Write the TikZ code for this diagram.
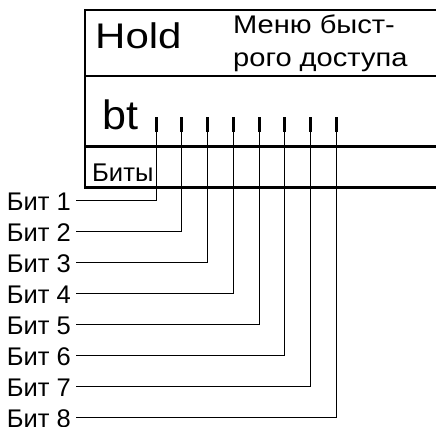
\documentclass[tikz,border=0pt]{standalone}
\usepackage{fontspec}
\setmainfont{Liberation Sans}
\newfontfamily\widefont[FakeStretch=1.18]{Liberation Sans}
\newfontfamily\menufont[FakeStretch=1.14]{Liberation Sans}
\newfontfamily\btfont[FakeStretch=1.05]{Liberation Sans}
\begin{document}
\begin{tikzpicture}[x=1pt,y=1pt,
  frame/.style={line width=2.6pt},
  wire/.style={line width=1pt},
  tickmark/.style={fill=black, inner sep=0pt, minimum width=3pt, minimum height=15pt},
  bitlabel/.style={anchor=east, inner xsep=5pt, inner ysep=0pt, text height=20pt, text depth=0pt, font=\fontsize{25.5}{25.5}\selectfont},
  txt/.style={anchor=base west, inner sep=0pt}]
\useasboundingbox (0,0) rectangle (436,-426);
\draw[frame] (436,-10) -- (85,-10) -- (85,-187.5) -- (436,-187.5);
\draw[frame] (85,-76) -- (436,-76);
\draw[frame] (85,-146.5) -- (436,-146.5);
\node[txt, font=\widefont\fontsize{35.6}{35.6}\selectfont] (hold) at (95,-48.3) {Hold};
\node[txt, font=\menufont\fontsize{25.5}{25.5}\selectfont] (menu1) at (233,-33) {Меню быст-};
\node[txt, font=\menufont\fontsize{25.5}{25.5}\selectfont] (menu2) at (233,-66.5) {рого доступа};
\node[txt, font=\btfont\fontsize{41}{41}\selectfont] (bt) at (102,-129.3) {bt};
\node[txt, font=\fontsize{25.6}{25.6}\selectfont] (bity) at (92,-181.5) {Биты};
\foreach \i in {1,...,8} {
  \node[tickmark] (t\i) at ({156+25.75*(\i-1)},-124.2) {};
  \node[bitlabel] (b\i) at (76,{-200.7-30.95*(\i-1)}) {Бит \i};
  \draw[wire] (t\i.south) |- (b\i.east);
}
\end{tikzpicture}
\end{document}
